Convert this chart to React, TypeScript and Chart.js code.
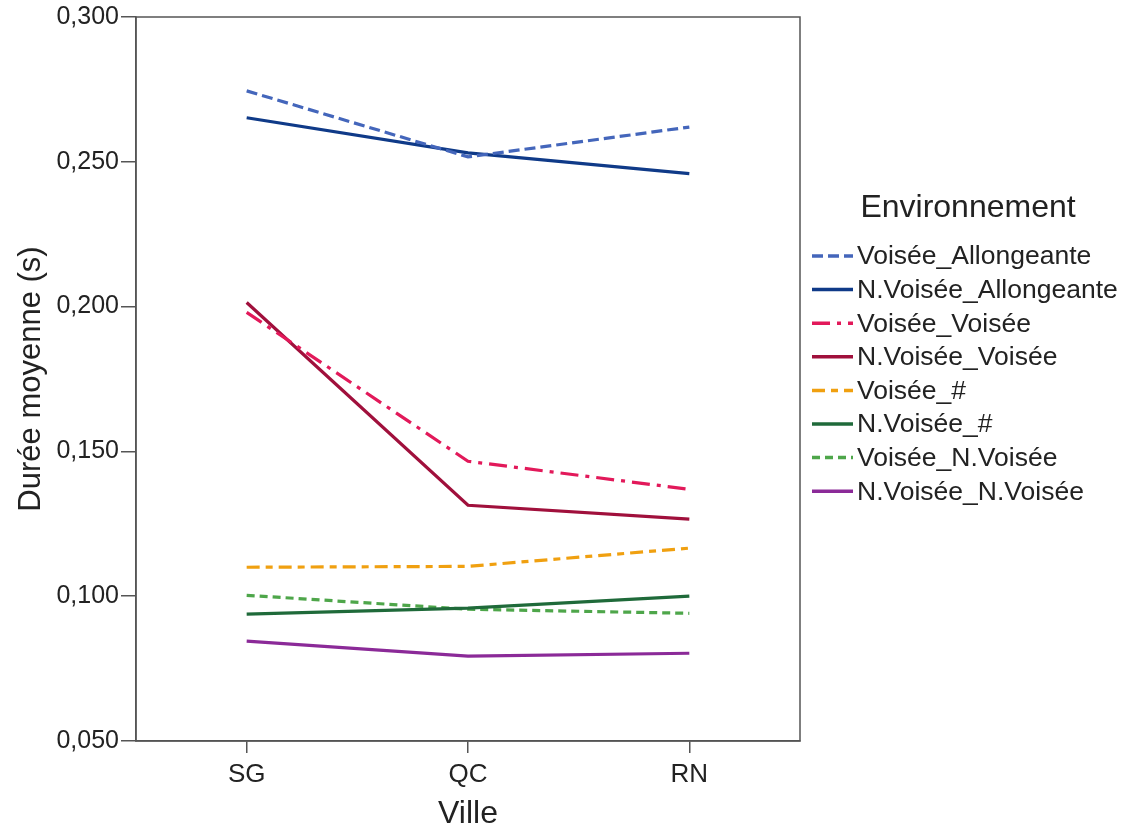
import React, { useEffect, useRef } from "react";
import { Chart, registerables } from "chart.js";

Chart.register(...registerables);

const categories = ["SG", "QC", "RN"];
const yTicks = [0.05, 0.1, 0.15, 0.2, 0.25, 0.3];

const seriesNames = [
  "Voisée_Allongeante",
  "N.Voisée_Allongeante",
  "Voisée_Voisée",
  "N.Voisée_Voisée",
  "Voisée_#",
  "N.Voisée_#",
  "Voisée_N.Voisée",
  "N.Voisée_N.Voisée",
];

const voiseeAllongeante = [0.2745, 0.2517, 0.262];
const nVoiseeAllongeante = [0.2652, 0.2531, 0.2459];
const voiseeVoisee = [0.198, 0.1466, 0.1369];
const nVoiseeVoisee = [0.2014, 0.1314, 0.1266];
const voiseeDiese = [0.11, 0.1103, 0.1166];
const nVoiseeDiese = [0.0938, 0.0959, 0.1];
const voiseeNVoisee = [0.1003, 0.0955, 0.0941];
const nVoiseeNVoisee = [0.0845, 0.0793, 0.0803];

const seriesValues = [
  voiseeAllongeante,
  nVoiseeAllongeante,
  voiseeVoisee,
  nVoiseeVoisee,
  voiseeDiese,
  nVoiseeDiese,
  voiseeNVoisee,
  nVoiseeNVoisee,
];

const colors = [
  "#4466bb",
  "#0f3a88",
  "#e2195a",
  "#a0103c",
  "#f0a010",
  "#1f6a3a",
  "#4ea64a",
  "#8b2a98",
];

const dashes: number[][] = [
  [11, 5],
  [],
  [18, 7, 4, 7],
  [],
  [13, 6, 7, 6],
  [],
  [8, 5],
  [],
];

const FONT = "'Liberation Sans', Arial, sans-serif";

const boxPlugin = {
  id: "boxPlugin",
  afterDraw(chart: any) {
    const { ctx, chartArea } = chart;
    ctx.save();
    ctx.strokeStyle = "#555";
    ctx.lineWidth = 1.5;
    ctx.strokeRect(chartArea.left, chartArea.top, chartArea.right - chartArea.left, chartArea.bottom - chartArea.top);
    ctx.restore();
  },
};

const legendPlugin = {
  id: "customLegend",
  afterDraw(chart: any) {
    const { ctx } = chart;
    ctx.save();
    ctx.fillStyle = "#222";
    ctx.textBaseline = "middle";
    ctx.textAlign = "center";
    ctx.font = `32px ${FONT}`;
    ctx.fillText("Environnement", 968, 208);
    ctx.textAlign = "left";
    ctx.font = `26.5px ${FONT}`;
    const startY = 256;
    const step = 33.6;
    chart.data.datasets.forEach((ds: any, i: number) => {
      const y = startY + i * step;
      ctx.save();
      ctx.strokeStyle = ds.borderColor;
      ctx.lineWidth = 3.5;
      ctx.setLineDash(ds.borderDash || []);
      ctx.beginPath();
      ctx.moveTo(812, y);
      ctx.lineTo(853, y);
      ctx.stroke();
      ctx.restore();
      ctx.fillStyle = "#222";
      ctx.fillText(ds.label, 857, y + 1);
    });
    ctx.restore();
  },
};

export default function App() {
  const ref = useRef<HTMLCanvasElement>(null);
  useEffect(() => {
    if (!ref.current) return;
    const chart = new Chart(ref.current, {
      type: "line",
      data: {
        labels: categories,
        datasets: seriesNames.map((name, i) => ({
          label: name,
          data: seriesValues[i],
          borderColor: colors[i],
          backgroundColor: colors[i],
          borderWidth: 3.2,
          borderDash: dashes[i],
          pointRadius: 0,
          tension: 0,
          fill: false,
        })),
      },
      options: {
        animation: false,
        responsive: false,
        maintainAspectRatio: false,
        layout: { padding: { left: 0, top: 17, right: 333, bottom: 0 } },
        plugins: {
          legend: { display: false },
          tooltip: { enabled: false },
        },
        scales: {
          x: {
            type: "category",
            offset: true,
            grid: {
              display: true,
              drawOnChartArea: false,
              drawTicks: true,
              tickLength: 12,
              offset: false,
              color: "#555",
              lineWidth: 1.5,
            },
            border: { display: true, color: "#555", width: 1.5 },
            ticks: {
              color: "#222",
              font: { family: FONT, size: 26 },
              padding: 6,
              maxRotation: 0,
            },
            title: {
              display: true,
              text: "Ville",
              color: "#222",
              font: { family: FONT, size: 32 },
              padding: { top: 0, bottom: 0 },
            },
            afterFit: (s: any) => {
              s.height = 92;
            },
          },
          y: {
            min: 0.05,
            max: 0.3,
            afterBuildTicks: (s: any) => {
              s.ticks = yTicks.map((v) => ({ value: v }));
            },
            grid: {
              display: true,
              drawOnChartArea: false,
              drawTicks: true,
              tickLength: 15,
              color: "#555",
              lineWidth: 1.5,
            },
            border: { display: true, color: "#555", width: 1.5 },
            ticks: {
              color: "#222",
              font: { family: FONT, size: 25 },
              padding: 2,
              callback: (v: any) => Number(v).toFixed(3).replace(".", ","),
            },
            title: {
              display: true,
              text: "Durée moyenne (s)",
              color: "#222",
              font: { family: FONT, size: 31 },
              padding: { top: 13, bottom: 0 },
            },
            afterFit: (s: any) => {
              s.width = 136;
            },
          },
        },
      },
      plugins: [boxPlugin, legendPlugin],
    });
    return () => chart.destroy();
  }, []);
  return (
    <div style={{ position: "fixed", left: 0, top: 0, width: 1133, height: 833, background: "#fff" }}>
      <canvas ref={ref} width={1133} height={833} style={{ width: 1133, height: 833, display: "block" }} />
    </div>
  );
}
